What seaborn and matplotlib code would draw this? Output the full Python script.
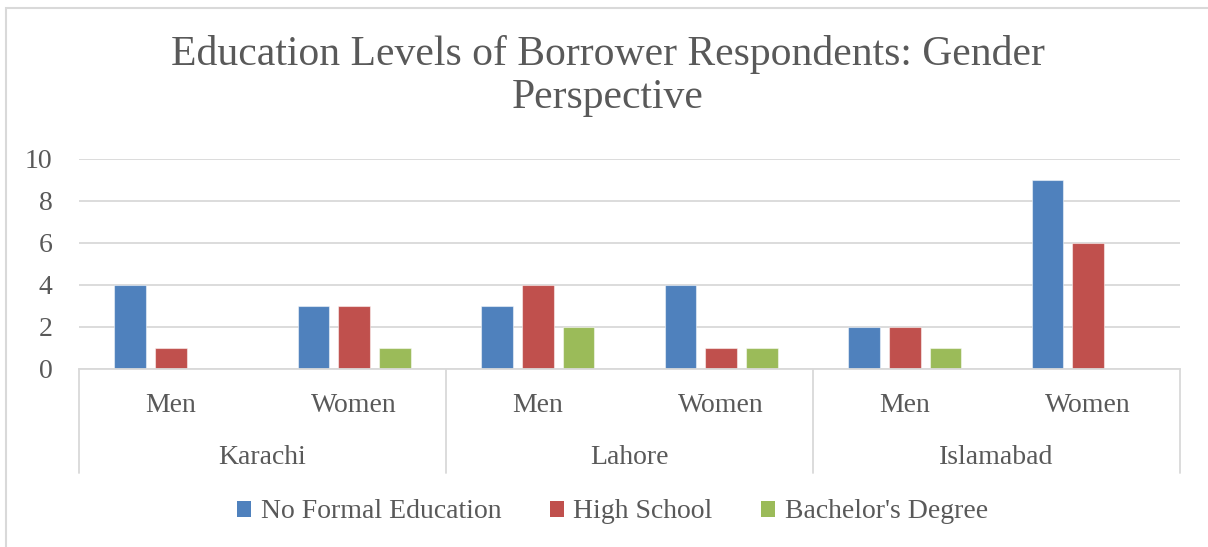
import matplotlib
matplotlib.use("Agg")
import matplotlib.pyplot as plt
import matplotlib.patches as mpatches
import matplotlib.transforms as mtransforms
import seaborn as sns
import pandas as pd

# Data: borrower counts by city, gender and education level
cities = ["Karachi", "Lahore", "Islamabad"]
genders = ["Men", "Women"]
levels = ["No Formal Education", "High School", "Bachelor's Degree"]
no_formal = [4, 3, 3, 4, 2, 9]
high_school = [1, 3, 4, 1, 2, 6]
bachelors = [0, 1, 2, 1, 1, 0]
colors = ["#4F81BD", "#C0504D", "#9BBB59"]
title = "Education Levels of Borrower Respondents: Gender\nPerspective"

groups = [f"{c}|{g}" for c in cities for g in genders]
rows = []
for lvl, vals in zip(levels, [no_formal, high_school, bachelors]):
    for grp, v in zip(groups, vals):
        rows.append({"group": grp, "level": lvl, "count": v})
df = pd.DataFrame(rows)

sns.set_theme(style="white")
plt.rcParams["font.family"] = ["Liberation Serif", "DejaVu Serif"]
text_color = "#595959"
grid_color = "#D9D9D9"

W, H = 1208, 547
fig = plt.figure(figsize=(W / 100, H / 100), dpi=100)
fig.patch.set_facecolor("white")
ax = fig.add_axes([79 / W, 1 - 369 / H, (1180 - 79) / W, 210 / H])

sns.barplot(data=df, x="group", y="count", hue="level", order=groups,
            hue_order=levels, palette=colors, saturation=1, width=0.666,
            gap=0.216, errorbar=None, edgecolor="#FFFFFF80", linewidth=0.8,
            legend=False, ax=ax)

# hide the outline of empty bars
for p in ax.patches:
    if p.get_height() == 0:
        p.set_visible(False)

ax.set_xlim(-0.5, len(groups) - 0.5)
ax.set_ylim(0, 10)
ax.set_yticks(range(0, 11, 2))
ax.yaxis.grid(True, color=grid_color, linewidth=1.3)
ax.set_axisbelow(True)
for s in ["left", "top", "right"]:
    ax.spines[s].set_visible(False)
ax.spines["bottom"].set_color(grid_color)
ax.spines["bottom"].set_linewidth(1.3)
ax.set_xlabel("")
ax.set_ylabel("")

ax.set_xticks(range(len(groups)))
ax.set_xticklabels(genders * len(cities))
ax.tick_params(axis="x", length=0, pad=17, labelsize=20, labelcolor=text_color)
ax.tick_params(axis="y", length=0, pad=19, labelsize=20, labelcolor=text_color)

# second category level: city names and separators
trans = mtransforms.blended_transform_factory(ax.transData, ax.transAxes)
n_g = len(genders)
for i, city in enumerate(cities):
    center = i * n_g + (n_g - 1) / 2
    ax.text(center, -0.42, city, transform=trans, ha="center", va="center",
            fontsize=20, color=text_color)
for b in range(len(cities) + 1):
    xb = b * n_g - 0.5
    ax.plot([xb, xb], [0, -0.495], transform=trans, color=grid_color,
            linewidth=1.3, clip_on=False)

# legend
handles = [mpatches.Patch(facecolor=c, edgecolor="none") for c in colors]
fig.legend(handles, levels, loc="center", bbox_to_anchor=(0.507, 1 - 512 / H),
           ncol=3, frameon=False, fontsize=20, handlelength=0.5,
           handleheight=0.5, handletextpad=0.35, columnspacing=1.75,
           labelcolor=text_color)

fig.text(0.503, 1 - 76 / H, title, ha="center", va="center", fontsize=30,
         color=text_color, linespacing=1.15)

# chart frame
fig.patches.append(mpatches.Rectangle((6 / W, -0.1), 2, 1 - 8 / H + 0.1,
                                      transform=fig.transFigure, fill=False,
                                      edgecolor=grid_color, linewidth=1.5))

fig.savefig("out.png", dpi=100)
